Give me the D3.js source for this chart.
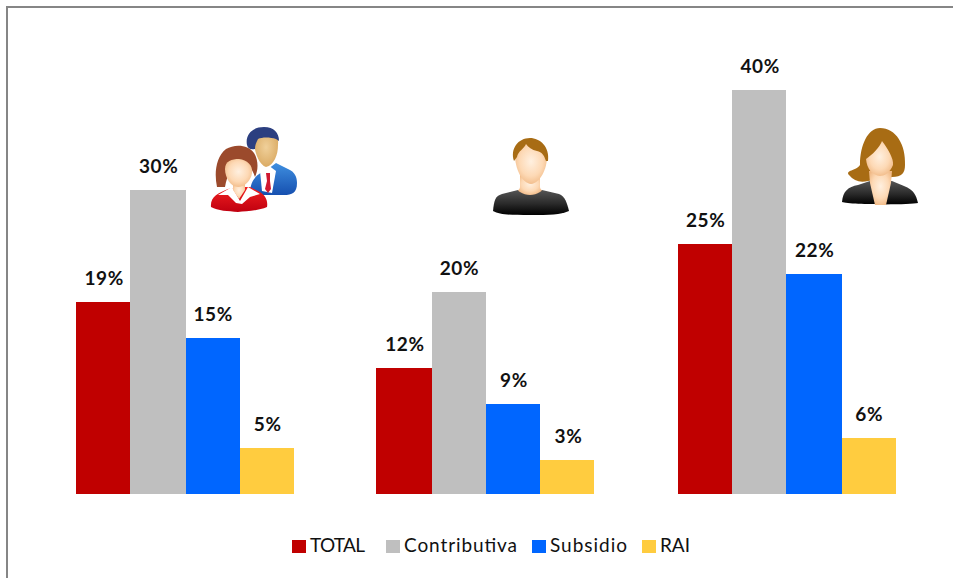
<!DOCTYPE html>
<html>
<head>
<meta charset="utf-8">
<script src="https://cdn.jsdelivr.net/npm/d3@7"></script>
<style>
  html, body { margin: 0; padding: 0; background: #fff; overflow: hidden; }
  text { font-family: Lato, "Open Sans", sans-serif; fill: #111; }
  .bar-label { font-size: 19px; font-weight: bold; text-anchor: middle; letter-spacing: .7px; }
  .legend-label { font-size: 19px; }
</style>
</head>
<body>
<div class="chart-container"></div>
<script>
const groups = ['Ambos', 'Hombres', 'Mujeres'];
const seriesNames = ['TOTAL', 'Contributiva', 'Subsidio', 'RAI'];
const seriesColors = ['#c00000', '#bfbfbf', '#0066ff', '#ffcc3f'];
// alturas, las etiquetas van redondeadas aparte
const totalValues = [19.0, 12.5, 24.8];
const contributivaValues = [30.1, 20.0, 40.0];
const subsidioValues = [15.4, 8.9, 21.8];
const raiValues = [4.6, 3.4, 5.5];
const totalLabels = ['19%', '12%', '25%'];
const contributivaLabels = ['30%', '20%', '40%'];
const subsidioLabels = ['15%', '9%', '22%'];
const raiLabels = ['5%', '3%', '6%'];

const allValues = [totalValues, contributivaValues, subsidioValues, raiValues];
const allLabels = [totalLabels, contributivaLabels, subsidioLabels, raiLabels];

const svg_width = 953;
const svg_height = 578;
const svg = d3.select('.chart-container').append('svg')
    .attr('width', svg_width).attr('height', svg_height)
    .style('display', 'block');

// marco exterior
svg.append('rect')
    .attr('x', 7).attr('y', 7)
    .attr('width', svg_width + 10).attr('height', svg_height + 10)
    .attr('fill', '#fff').attr('stroke', '#868686').attr('stroke-width', 2);

const xScale = d3.scaleBand().domain(groups).range([34.625, 936.875])
    .paddingInner(0.27515).paddingOuter(0.13757);
const xInner = d3.scaleBand().domain(seriesNames).range([0, xScale.bandwidth()]);
const yScale = d3.scaleLinear().domain([0, 40]).range([494, 90]);

// la imagen original esta ampliada al doble, los bordes caen en pixeles pares
const snap = v => Math.round((v + 0.05) / 2) * 2;
const barLeft = d => snap(xScale(d.group) + xInner(d.name));
const barRight = d => snap(xScale(d.group) + xInner(d.name) + xInner.bandwidth());

const bars = [];
seriesNames.forEach((name, s) => {
    groups.forEach((g, i) => {
        bars.push({ group: g, name: name, color: seriesColors[s], value: allValues[s][i], label: allLabels[s][i] });
    });
});

svg.append('g').selectAll('rect').data(bars).enter()
    .append('rect')
    .attr('x', barLeft)
    .attr('width', d => barRight(d) - barLeft(d))
    .attr('y', d => yScale(d.value))
    .attr('height', d => yScale(0) - yScale(d.value))
    .attr('fill', d => d.color)
    .attr('shape-rendering', 'crispEdges');

svg.append('g').selectAll('text').data(bars).enter()
    .append('text').attr('class', 'bar-label')
    .attr('x', d => xScale(d.group) + xInner(d.name) + xInner.bandwidth() / 2 + 1)
    .attr('y', d => yScale(d.value) - 17)
    .text(d => d.label);

// leyenda
const legendX = [292, 386, 532, 642];
const legendWidths = [55, 113, 77, 30];
const legend = svg.append('g').selectAll('g').data(seriesNames).enter()
    .append('g').attr('transform', (d, i) => `translate(${legendX[i]},540)`);
legend.append('rect').attr('width', 14).attr('height', 13)
    .attr('fill', (d, i) => seriesColors[i]).attr('shape-rendering', 'crispEdges');
legend.append('text').attr('class', 'legend-label')
    .attr('x', 18).attr('y', 12)
    .attr('textLength', (d, i) => legendWidths[i]).attr('lengthAdjust', 'spacing')
    .text(d => d);

// iconos de personas
const defs = svg.append('defs');
function vGrad(id, stops) {
    const g = defs.append('linearGradient').attr('id', id).attr('x1', 0).attr('y1', 0).attr('x2', 0).attr('y2', 1);
    stops.forEach(s => g.append('stop').attr('offset', s[0]).attr('stop-color', s[1]));
}
function rGrad(id, stops) {
    const g = defs.append('radialGradient').attr('id', id).attr('cx', '50%').attr('cy', '45%').attr('r', '60%');
    stops.forEach(s => g.append('stop').attr('offset', s[0]).attr('stop-color', s[1]));
}
rGrad('skin', [[0, '#fff0e0'], [0.6, '#fdd9b5'], [1, '#f0b884']]);
rGrad('skin2', [[0, '#f0d09a'], [1, '#d9a860']]);
vGrad('shirt', [[0, '#555'], [0.55, '#2a2a2a'], [1, '#000']]);
vGrad('redSuit', [[0, '#f02020'], [1, '#c00010']]);
vGrad('blueSuit', [[0, '#3f8fe0'], [1, '#1650b0']]);

function path(g, d, fill) { return g.append('path').attr('d', d).attr('fill', fill); }

// pareja
const couple = svg.append('g').attr('transform', 'translate(200,115)');
path(couple, 'M50 79 C50 62 60 58 68 54 L76 48 L88 54 C95 57 97 62 97 68 C97 78 92 80 84 80 L62 80 Z', 'url(#blueSuit)');
path(couple, 'M60 56 L68 50 L76 56 L72 78 L62 76 Z', '#fff');
path(couple, 'M66 58 L70 58 L70 66 L71 74 L68 78 L65 74 L67 66 Z', '#d01830');
path(couple, 'M54 28 C54 18 62 16 68 16 C76 16 79 22 78 30 C78 40 74 50 66 52 C60 50 55 40 54 28 Z', 'url(#skin2)');
path(couple, 'M47 30 C45 20 52 12 64 12 C74 12 79 18 79 26 L76 24 C70 22 62 22 58 24 C56 28 55 30 55 34 C51 35 48 34 47 30 Z', '#2c3f80');
path(couple, 'M11 92 C10 82 18 78 28 74 L38 72 L50 72 L58 76 C66 80 68 86 67 92 C58 96 46 96 38 97 C28 96 18 96 11 92 Z', 'url(#redSuit)');
path(couple, 'M18 80 L32 72 L40 86 L48 72 L60 79 L50 82 L42 89 L36 88 L28 80 Z', '#fff');
path(couple, 'M33 68 L45 68 L45 75 L39 84 L33 75 Z', 'url(#skin)');
path(couple, 'M17 72 C14 58 16 42 26 34 C34 29 48 29 54 38 C59 46 58 56 55 62 C52 52 46 48 40 46 C32 50 27 60 25 72 Z', '#9b4a2c');
path(couple, 'M25 54 C25 46 32 44 39 44 C47 45 53 50 52 58 C51 66 44 72 38 72 C31 72 25 63 25 54 Z', 'url(#skin)');

// hombre
const man = svg.append('g').attr('transform', 'translate(480,125)');
path(man, 'M13 86 C14 76 15 71 22 69 L38 65 L62 65 L79 69 C85 71 87 78 89 86 C80 90 70 90 50 90 C30 90 20 90 13 86 Z', 'url(#shirt)');
path(man, 'M40 50 L60 50 L60 62 C60 65 64 65 60 67 C54 71 46 71 40 67 C36 65 40 65 40 62 Z', 'url(#skin)');
path(man, 'M35 30 C35 20 42 18 50 18 C60 18 67 22 67 32 C67 44 60 58 51 59 C42 58 35 44 35 30 Z', 'url(#skin)');
path(man, 'M34 36 C30 24 38 13 50 13 C60 13 70 22 68 36 L66 36 C64 30 62 27 57 26 C52 25 48 22 46 19 C44 24 38 26 37 32 Z', '#a86c14');

// mujer
const woman = svg.append('g').attr('transform', 'translate(830,115)');
path(woman, 'M30 50 C30 30 38 13 50 13 C66 13 76 30 75 50 C75 58 72 62 62 62 L38 66 C30 68 24 66 19 60 C15 55 26 56 30 50 Z', '#a86c14');
path(woman, 'M12 87 C13 76 18 72 28 70 L40 66 L62 66 L74 71 C84 75 86 80 88 88 C80 90 20 90 12 87 Z', 'url(#shirt)');
path(woman, 'M39 56 L62 56 L61 68 L56 90 L45 90 L40 68 Z', 'url(#skin)');
path(woman, 'M36 44 C42 40 50 32 52 26 C58 34 64 44 63 50 C60 58 54 61 50 61 C42 60 37 54 36 44 Z', 'url(#skin)');
</script>
</body>
</html>
